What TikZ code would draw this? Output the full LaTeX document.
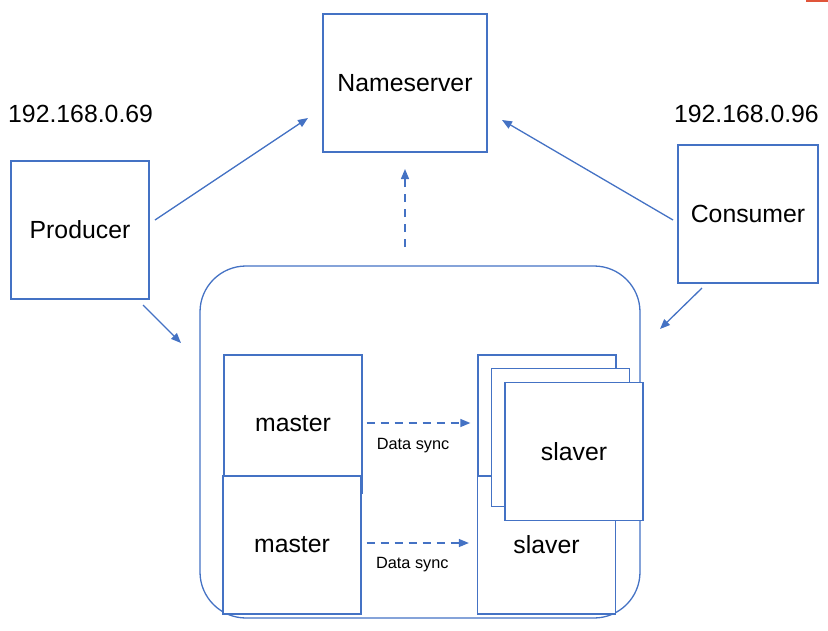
\documentclass[tikz,border=0pt]{standalone}
\usepackage{fontspec}
\setmainfont{Liberation Sans}
\usepackage{xcolor}
\usetikzlibrary{arrows.meta,positioning}
\definecolor{lineblue}{HTML}{4472C4}
\definecolor{markred}{HTML}{E0553A}

\begin{document}
\begin{tikzpicture}[x=1pt, y=-1pt,
    box/.style={draw=lineblue, line width=1.3pt, fill=white, inner sep=0pt,
        minimum width=138pt, minimum height=138pt, font=\fontsize{24.8}{29}\selectfont},
    link/.style={draw=lineblue, line width=1.3pt, -{Triangle[length=10pt,width=8pt]}},
    sync/.style={link, dash pattern=on 8pt off 6pt},
    note/.style={inner sep=0pt, font=\fontsize{16.3}{19}\selectfont},
    addr/.style={inner sep=0pt, font=\fontsize{24.8}{29}\selectfont}]
        \useasboundingbox (0,0) rectangle (828,630);
        \fill[markred] (806,0) rectangle (828,1.5);

        % top row
        \node[box, minimum width=164pt] (ns) at (405,83) {Nameserver};
        \node[addr, anchor=west] (ipprod) at (8,114) {192.168.0.69};
        \node[addr, anchor=east] (ipcons) at (819,114) {192.168.0.96};
        \node[box] (prod) at (80,230) {Producer};
        \node[box, minimum width=140pt] (cons) at (748,214) {Consumer};

        % broker cluster
        \node[draw=lineblue, line width=1.3pt, rounded corners=46pt, minimum width=440pt,
            minimum height=352pt] (cluster) at (420,442) {};
        \node[box] (master1) at (293,424) {master};
        \node[box] (master2) at (292,545) {master};
        \node[box] (slave1) at (547,424) {};
        \node[box] (slave4) at (546.5,545) {slaver};
        \node[box] (slave2) at (560.5,437.5) {};
        \node[box] (slave3) at (574,451.5) {slaver};

        % arrow ends
        \coordinate (prodout) at (155,220);
        \coordinate (nsleft) at (308,118);
        \coordinate (consout) at (673,220);
        \coordinate (nsright) at (502,120);
        \coordinate (prodlow) at (143,305);
        \coordinate (clleft) at (181,343);
        \coordinate (conslow) at (702,288);
        \coordinate (clright) at (660,329);
        \coordinate (clup) at (405,247);
        \coordinate (nslow) at (405,169);

        \draw[link] (prodout) -- (nsleft);
        \draw[link] (consout) -- (nsright);
        \draw[link] (prodlow) -- (clleft);
        \draw[link] (conslow) -- (clright);
        \draw[sync, dash pattern=on 8pt off 7pt] (clup) -- (nslow);

        \draw[sync, shorten <=4pt, shorten >=7pt] ([yshift=1pt]master1.east) -- ([yshift=1pt]master1.east -| slave1.west)
            node[note, pos=0.44, below=15pt] (sync1) {Data sync};
        \draw[sync, shorten <=5pt, shorten >=8pt] ([yshift=2pt]master2.east) -- ([yshift=2pt]slave4.west)
            node[note, pos=0.44, below=14pt] (sync2) {Data sync};
    \end{tikzpicture}
\end{document}
